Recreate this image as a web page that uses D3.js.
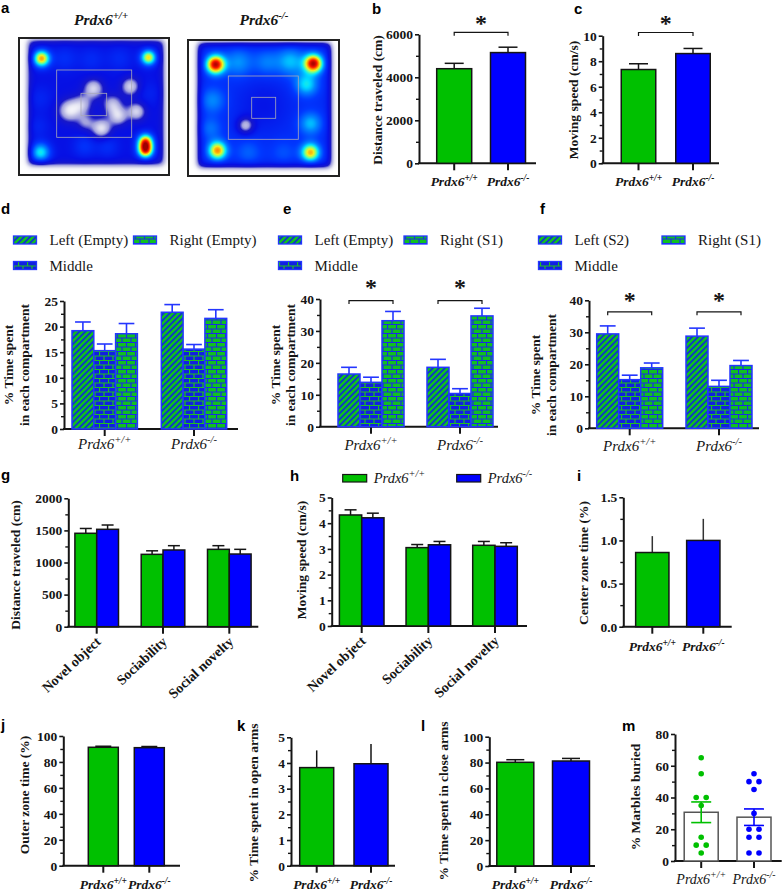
<!DOCTYPE html>
<html><head><meta charset="utf-8">
<script src="https://cdn.jsdelivr.net/npm/d3@7"></script>
<style>body{margin:0;background:#fff}svg{display:block}</style>
</head><body>
<svg id="fig" width="783" height="891"></svg>
<script>
// ---------------- DATA ----------------
const genotypes = ["Prdx6+/+", "Prdx6-/-"];
// b, c: open field
const ofDistance = [4400, 5150], ofDistanceErr = [250, 250];
const ofSpeed = [7.35, 8.6], ofSpeedErr = [0.45, 0.4];
// d, e, f: three-chamber (bar order Left, Middle, Right)
const chambers = ["Left", "Middle", "Right"];
const legendD = ["Left (Empty)", "Right (Empty)", "Middle"];
const legendE = ["Left (Empty)", "Right (S1)", "Middle"];
const legendF = ["Left (S2)", "Right (S1)", "Middle"];
const habWT = [19.2, 15.3, 18.6], habWTErr = [1.7, 1.3, 2.0];
const habKO = [22.8, 15.6, 21.6], habKOErr = [1.5, 0.9, 1.7];
const socWT = [16.5, 13.9, 33.2], socWTErr = [2.1, 1.6, 2.9];
const socKO = [18.6, 10.4, 34.7], socKOErr = [2.5, 1.5, 2.4];
const novWT = [29.5, 15.2, 18.9], novWTErr = [2.5, 1.4, 1.5];
const novKO = [28.8, 13.1, 19.6], novKOErr = [2.5, 1.9, 1.6];
// g, h
const phases = ["Novel object", "Sociability", "Social novelty"];
const phDistWT = [1455, 1127, 1205], phDistWTErr = [75, 55, 57];
const phDistKO = [1517, 1195, 1132], phDistKOErr = [67, 67, 73];
const phSpeedWT = [4.32, 3.05, 3.14], phSpeedWTErr = [0.2, 0.12, 0.15];
const phSpeedKO = [4.21, 3.16, 3.10], phSpeedKOErr = [0.18, 0.13, 0.14];
// i, j, k, l
const centerZone = [0.86, 1.0], centerZoneErr = [0.19, 0.25];
const outerZone = [91.3, 91.0], outerZoneErr = [0.8, 0.9];
const openArms = [3.82, 3.97], openArmsErr = [0.67, 0.77];
const closeArms = [80.2, 81.2], closeArmsErr = [2.0, 2.0];
// m: marble burying
const marblesWT = [65, 55, 40, 40, 35, 15, 10, 10, 5];
const marblesKO = [55, 50, 50, 45, 30, 20, 20, 15, 15, 5, 5];
const marbleMean = [30.7, 27.6], marbleSem = [6.5, 5.2];
// a: heatmap hot spots [x, y, sigma, amplitude] relative to arena box
const spotsWT = [
  [22,20,6,0.5],[129,19,5.5,0.45],[21,114,7,0.3],[126,103,5.5,0.5],[126,112,5.5,0.55],
  [45,20,9,0.07],[72,21,9,0.06],[100,20,9,0.06],[65,108,8,0.08],[88,108,8,0.07],[20,60,9,0.05],[18,88,8,0.05],[130,55,9,0.04],
  [50,72,8,-0.22],[74,50,7,-0.2],[93,66,7,-0.17],[111,48,6.5,-0.2],[117,73,6.5,-0.2],[82,90,7,-0.22],[99,78,6.5,-0.18],[63,66,7,-0.15],[66,84,6,-0.12]
];
const spotsKO = [
  [27,24,6.5,0.6],[125,23,6.5,0.6],[29,110,6.5,0.45],[122,112,6.5,0.42],
  [50,22,10,0.14],[78,22,9,0.11],[102,21,10,0.18],[118,44,8,0.22],[122,83,8,0.18],[24,60,9,0.13],[22,88,8,0.1],[60,112,9,0.08],[95,112,9,0.06],
  [57,85,6,-0.22],[75,65,18,-0.06]
];
const jetStops  = [0, 0.08, 0.16, 0.22, 0.30, 0.40, 0.50, 0.58, 0.66, 0.74, 0.82, 0.90, 1.0];
const jetColors = ["#ffffff","#e4e4f2","#a0a0dc","#1818c8","#0610e4","#0038ff","#0088ff","#00e0ff","#70ff90","#f0f020","#ff9000","#ff1800","#a00000"];

// ---------------- STYLE ----------------
const GREEN = "#00c000", BLUE = "#0000ff", PBLUE = "#2436ff", INK = "#151515";
const SERIF = "'Liberation Serif','Times New Roman',serif";
const SANS = "'Liberation Sans',Arial,sans-serif";
const svg = d3.select("#fig");
const defs = svg.append("defs");

// patterns
(function(){
  const pd = defs.append("pattern").attr("id","pDiag").attr("patternUnits","userSpaceOnUse").attr("width",6).attr("height",6);
  pd.append("rect").attr("width",6).attr("height",6).attr("fill","#1030d0");
  pd.append("path").attr("d","M-1,7 L7,-1 M-1,1 L1,-1 M5,7 L7,5").attr("stroke","#10c020").attr("stroke-width",2.6);
  function brick(id, fill, line){
    const p = defs.append("pattern").attr("id",id).attr("patternUnits","userSpaceOnUse").attr("width",9).attr("height",9);
    p.append("rect").attr("width",9).attr("height",9).attr("fill",fill);
    p.append("path").attr("d","M0,0.5 H9 M0,5 H9 M0.5,0.5 V5 M5,5 V9").attr("stroke",line).attr("stroke-width",1.2).attr("fill","none");
  }
  brick("pBrickB", "#1020e0", "#20c020");
  brick("pBrickG", "#10c020", "#1a2ae8");
})();
const chamberFill = {"Left":"url(#pDiag)","Middle":"url(#pBrickB)","Right":"url(#pBrickG)"};

// ---------------- HELPERS ----------------
function letter(t, x, y){
  svg.append("text").attr("x",x).attr("y",y).text(t)
    .attr("font-family",SANS).attr("font-weight","bold").attr("font-size",15).attr("fill","#000");
}
function geno(sel, label, x, y, o){
  const t = sel.append("text").attr("x",x).attr("y",y).attr("text-anchor",o.anchor||"middle")
    .attr("font-family",SERIF).attr("font-style","italic").attr("font-weight",o.bold?"bold":"normal")
    .attr("font-size",o.size).attr("fill",INK);
  t.append("tspan").text(label.slice(0,5));
  t.append("tspan").text(label.slice(5)).attr("font-size",o.size*0.7).attr("dy",-o.size*0.4);
  return t;
}
function yTitle(g, lines, x, cy, dx){
  lines.forEach((s,i)=>{
    g.append("text").attr("transform",`translate(${x + i*(dx||15)},${cy}) rotate(-90)`)
      .attr("text-anchor","middle").attr("dominant-baseline","central")
      .attr("font-family",SERIF).attr("font-weight","bold").attr("font-size",13.5).attr("fill",INK).text(s);
  });
}
function axes(p){
  const g = svg.append("g");
  const y = d3.scaleLinear().domain([0,p.max]).range([p.yBot,p.yTop]);
  const ay = g.append("g").attr("transform",`translate(${p.ax},0)`)
    .call(d3.axisLeft(y).tickValues(p.ticks).tickFormat(p.fmt||(d=>d)).tickSize(4).tickSizeOuter(0).tickPadding(2));
  ay.select(".domain").attr("stroke",INK).attr("stroke-width",2);
  ay.selectAll(".tick line").attr("stroke",INK).attr("stroke-width",1.6);
  ay.selectAll(".tick text").attr("font-family",SERIF).attr("font-weight","bold").attr("font-size",13.5).attr("fill",INK);
  const minors = d3.range(0, p.max + 1e-9, p.minor).filter(v => !p.ticks.some(t => Math.abs(t-v) < 1e-9));
  const am = g.append("g").attr("transform",`translate(${p.ax},0)`)
    .call(d3.axisLeft(y).tickValues(minors).tickFormat("").tickSize(3).tickSizeOuter(0));
  am.select(".domain").remove();
  am.selectAll(".tick line").attr("stroke",INK).attr("stroke-width",1.4);
  g.append("line").attr("x1",p.ax-1).attr("x2",p.right).attr("y1",p.yBot).attr("y2",p.yBot)
    .attr("stroke",INK).attr("stroke-width",2);
  const x = d3.scalePoint().domain(p.cats).range(p.centers);
  g.selectAll(".xt").data(p.cats).join("line")
    .attr("x1",d=>x(d)).attr("x2",d=>x(d)).attr("y1",p.yBot).attr("y2",p.yBot+7)
    .attr("stroke",INK).attr("stroke-width",2);
  return {g, x, y};
}
function errUp(g, cx, y0, y1, capW, color, w){
  g.append("line").attr("x1",cx).attr("x2",cx).attr("y1",y0).attr("y2",y1).attr("stroke",color).attr("stroke-width",w||1.5);
  g.append("line").attr("x1",cx-capW/2).attr("x2",cx+capW/2).attr("y1",y1).attr("y2",y1).attr("stroke",color).attr("stroke-width",w||1.5);
}
function simpleBars(A, vals, errs, barW, capW, errColor){
  const colors = [GREEN, BLUE];
  genotypes.forEach((gname,i)=>{
    const cx = A.x(gname);
    errUp(A.g, cx, A.y(vals[i]), A.y(vals[i]+errs[i]), capW, errColor||INK);
    A.g.append("rect").attr("x",cx-barW/2).attr("width",barW)
      .attr("y",A.y(vals[i])).attr("height",A.y(0)-A.y(vals[i]))
      .attr("fill",colors[i]).attr("stroke",INK).attr("stroke-width",1.5);
  });
}
function genoLabels(A, y, o){
  genotypes.forEach(gname => geno(A.g, gname, A.x(gname), y, o));
}
function sigBracket(g, x1, x2, y, star){
  g.append("path").attr("d",`M${x1},${y+3.5}V${y}H${x2}V${y+3.5}`).attr("fill","none").attr("stroke",INK).attr("stroke-width",1.2);
  g.append("text").attr("x",(x1+x2)/2).attr("y",star).attr("text-anchor","middle")
    .attr("font-family",SERIF).attr("font-weight","bold").attr("font-size",24).attr("fill",INK).text("*");
}

// ---------------- a: heatmaps ----------------
const jet = d3.scaleLinear().domain(jetStops).range(jetColors).clamp(true);
function heatmap(o){
  const c = document.createElement("canvas"); c.width = o.w; c.height = o.h;
  const ctx = c.getContext("2d"); const img = ctx.createImageData(o.w, o.h);
  const sig = v => 1/(1+Math.exp(-v));
  const [ax0, ay0, ax1, ay1] = o.arena;
  for (let py=0; py<o.h; py++) for (let px=0; px<o.w; px++){
    const m = sig((px-ax0)/2.4)*sig((ax1-px)/2.4)*sig((py-ay0)/2.4)*sig((ay1-py)/2.4);
    let v = o.base;
    for (const s of o.spots){ const dx=px-s[0], dy=py-s[1]; v += s[3]*Math.exp(-(dx*dx+dy*dy)/(2*s[2]*s[2])); }
    v = Math.max(0, Math.min(1, v*m));
    const col = d3.rgb(jet(v)); const a = Math.min(1, v/0.08);
    const k = 4*(py*o.w+px);
    img.data[k] = 255*(1-a)+col.r*a; img.data[k+1] = 255*(1-a)+col.g*a; img.data[k+2] = 255*(1-a)+col.b*a; img.data[k+3] = 255;
  }
  ctx.putImageData(img,0,0);
  const g = svg.append("g").attr("transform",`translate(${o.ox},${o.oy})`);
  g.append("image").attr("width",o.w).attr("height",o.h).attr("href",c.toDataURL());
  [o.inner, o.center].forEach(r => g.append("rect").attr("x",r[0]).attr("y",r[1]).attr("width",r[2]-r[0]).attr("height",r[3]-r[1])
    .attr("fill","none").attr("stroke","#a8a8b8").attr("stroke-width",0.8));
  g.append("rect").attr("x",0).attr("y",0).attr("width",o.w).attr("height",o.h).attr("fill","none").attr("stroke","#222").attr("stroke-width",2);
}
heatmap({ox:19, oy:38, w:150, h:137, arena:[8,1,145,127], base:0.30, spots:spotsWT, inner:[37.7,32,112.7,99.3], center:[62,55.3,87.7,77.7]});
heatmap({ox:188, oy:40, w:151, h:136, arena:[9,2,143,127], base:0.37, spots:spotsKO, inner:[40.3,36,110.3,99.3], center:[63.7,57.3,87.7,78.3]});
geno(svg, genotypes[0], 101, 25, {bold:true, size:15.5});
geno(svg, genotypes[1], 264, 25, {bold:true, size:15.5});
letter("a", 1, 13);

// ---------------- b ----------------
letter("b", 372, 14);
{
  const A = axes({ax:419, right:536, yTop:34.3, yBot:163.3, max:6000, ticks:[0,2000,4000,6000], minor:1000, cats:genotypes, centers:[454.2,508]});
  simpleBars(A, ofDistance, ofDistanceErr, 35, 19);
  genoLabels(A, 186, {bold:true, size:13.5});
  yTitle(A.g, ["Distance traveled (cm)"], 377, 100);
  sigBracket(A.g, A.x(genotypes[0]), A.x(genotypes[1]), A.y(6090), 31);
}
// ---------------- c ----------------
letter("c", 574, 14);
{
  const A = axes({ax:602.7, right:719, yTop:35.7, yBot:163.3, max:10, ticks:[0,2,4,6,8,10], minor:1, cats:genotypes, centers:[638.5,693]});
  simpleBars(A, ofSpeed, ofSpeedErr, 34.5, 19);
  genoLabels(A, 186, {bold:true, size:13.5});
  yTitle(A.g, ["Moving speed (cm/s)"], 573.3, 100);
  sigBracket(A.g, A.x(genotypes[0]), A.x(genotypes[1]), A.y(10.25), 31);
}

// ---------------- d, e, f ----------------
function chamberPanel(p){
  const A = axes(p);
  const sub = d3.scaleBand().domain(chambers).range([-1.5*p.barW, 1.5*p.barW]);
  [[p.wt,p.wtErr],[p.ko,p.koErr]].forEach(([vals,errs],gi)=>{
    const cx = A.x(genotypes[gi]);
    chambers.forEach((ch,ci)=>{
      const bx = cx + sub(ch), bc = bx + sub.bandwidth()/2;
      errUp(A.g, bc, A.y(vals[ci]), A.y(vals[ci]+errs[ci]), p.barW*0.72, PBLUE, 1.6);
      A.g.append("rect").attr("x",bx).attr("width",sub.bandwidth()).attr("y",A.y(vals[ci])).attr("height",A.y(0)-A.y(vals[ci]))
        .attr("fill",chamberFill[ch]).attr("stroke",PBLUE).attr("stroke-width",1.5);
    });
    if (p.sig){
      const xl = cx + sub("Left") + sub.bandwidth()/2, xr = cx + sub("Right") + sub.bandwidth()/2;
      sigBracket(A.g, xl, xr, A.y(p.sig), p.star);
    }
  });
  genoLabels(A, p.labY, {bold:false, size:15});
  yTitle(A.g, ["% Time spent","in each compartment"], p.tx, p.ty, 15.5);
  // legend
  const fills = [chamberFill.Left, chamberFill.Right, chamberFill.Middle];
  const pos = [[p.lx1,240],[p.lx2,240],[p.lx1,265.5]];
  p.legend.forEach((s,i)=>{
    A.g.append("rect").attr("x",pos[i][0]).attr("y",pos[i][1]-4).attr("width",23).attr("height",8)
      .attr("fill",fills[i]).attr("stroke",PBLUE).attr("stroke-width",1.3);
    A.g.append("text").attr("x",pos[i][0]+36).attr("y",pos[i][1]+5).text(s)
      .attr("font-family",SERIF).attr("font-size",15).attr("fill",INK);
  });
}
letter("d", 1, 214);
chamberPanel({ax:64, right:238, yTop:301, yBot:429, max:25, ticks:[0,5,10,15,20,25], minor:2.5, cats:genotypes, centers:[104.7,194], barW:21.8,
  wt:habWT, wtErr:habWTErr, ko:habKO, koErr:habKOErr, legend:legendD, lx1:13.5, lx2:133.5, labY:449, tx:8.5, ty:365});
letter("e", 283, 214);
chamberPanel({ax:320, right:498, yTop:299, yBot:426.7, max:40, ticks:[0,10,20,30,40], minor:5, cats:genotypes, centers:[371,460], barW:22,
  wt:socWT, wtErr:socWTErr, ko:socKO, koErr:socKOErr, legend:legendE, lx1:278.5, lx2:404, labY:450, tx:275, ty:365, sig:39.5, star:295});
letter("f", 540, 214);
chamberPanel({ax:589, right:759, yTop:300.3, yBot:428.3, max:40, ticks:[0,10,20,30,40], minor:5, cats:genotypes, centers:[629.7,719], barW:22,
  wt:novWT, wtErr:novWTErr, ko:novKO, koErr:novKOErr, legend:legendF, lx1:538.5, lx2:662, labY:451, tx:535.5, ty:375, sig:36.4, star:308});

// ---------------- g, h ----------------
function phasePanel(p){
  const A = axes(p);
  const sub = d3.scaleBand().domain(genotypes).range([-p.barW, p.barW]);
  const colors = [GREEN, BLUE];
  [[p.wt,p.wtErr],[p.ko,p.koErr]].forEach(([vals,errs],gi)=>{
    phases.forEach((ph,pi)=>{
      const bx = A.x(ph) + sub(genotypes[gi]), bc = bx + sub.bandwidth()/2;
      errUp(A.g, bc, A.y(vals[pi]), A.y(vals[pi]+errs[pi]), 12, INK);
      A.g.append("rect").attr("x",bx).attr("width",sub.bandwidth()).attr("y",A.y(vals[pi])).attr("height",A.y(0)-A.y(vals[pi]))
        .attr("fill",colors[gi]).attr("stroke",INK).attr("stroke-width",1.5);
    });
  });
  phases.forEach(ph=>{
    A.g.append("text").attr("transform",`translate(${A.x(ph)+5},${p.yBot+16}) rotate(-43)`).attr("text-anchor","end")
      .attr("font-family",SERIF).attr("font-weight","bold").attr("font-size",14).attr("fill",INK).text(ph);
  });
  yTitle(A.g, [p.title], p.tx, p.ty);
}
letter("g", 1, 480);
phasePanel({ax:68.3, right:258.3, yTop:498.3, yBot:626.7, max:2000, ticks:[0,500,1000,1500,2000], minor:250, cats:phases, centers:[96.7,229.3], barW:21.8,
  wt:phDistWT, wtErr:phDistWTErr, ko:phDistKO, koErr:phDistKOErr, title:"Distance traveled (cm)", tx:15, ty:565});
letter("h", 290, 481);
phasePanel({ax:331.7, right:527, yTop:497.5, yBot:626, max:5, ticks:[0,1,2,3,4,5], minor:0.5, cats:phases, centers:[361.7,495], barW:22.3,
  wt:phSpeedWT, wtErr:phSpeedWTErr, ko:phSpeedKO, koErr:phSpeedKOErr, title:"Moving speed (cm/s)", tx:301.7, ty:560});
// h legend
[[342.7, GREEN],[456.7, BLUE]].forEach(([lx,c],i)=>{
  svg.append("rect").attr("x",lx).attr("y",474.5).attr("width",24).attr("height",7.5).attr("fill",c).attr("stroke",INK).attr("stroke-width",1.2);
  geno(svg, genotypes[i], lx+31, 483, {bold:false, size:14.5, anchor:"start"});
});

// ---------------- i ----------------
letter("i", 577, 481);
{
  const A = axes({ax:623.3, right:731.7, yTop:497.3, yBot:626.7, max:1.5, ticks:[0,0.5,1,1.5], fmt:d3.format(".1f"), minor:0.25, cats:genotypes, centers:[652.3,703.3]});
  simpleBars(A, centerZone, centerZoneErr, 33.3, 0, "#333");
  genoLabels(A, 651, {bold:true, size:13.5});
  yTitle(A.g, ["Center zone time (%)"], 583.3, 563);
}
// ---------------- j ----------------
letter("j", 1, 730);
{
  const A = axes({ax:63.3, right:180, yTop:736, yBot:865.7, max:100, ticks:[0,20,40,60,80,100], minor:10, cats:genotypes, centers:[103.3,149.3]});
  simpleBars(A, outerZone, outerZoneErr, 30, 16);
  genoLabels(A, 889, {bold:true, size:13.5});
  yTitle(A.g, ["Outer zone time (%)"], 24, 795);
}
// ---------------- k ----------------
letter("k", 237, 731);
{
  const A = axes({ax:291, right:395, yTop:737.3, yBot:865.7, max:5, ticks:[0,1,2,3,4,5], minor:0.5, cats:genotypes, centers:[316.7,371]});
  simpleBars(A, openArms, openArmsErr, 34, 0);
  genoLabels(A, 889, {bold:true, size:13.5});
  yTitle(A.g, ["% Time spent in open arms"], 253.3, 803);
}
// ---------------- l ----------------
letter("l", 421, 731);
{
  const A = axes({ax:489.3, right:595, yTop:736.7, yBot:866, max:100, ticks:[0,20,40,60,80,100], minor:10, cats:genotypes, centers:[515.3,571]});
  simpleBars(A, closeArms, closeArmsErr, 37, 18);
  genoLabels(A, 889, {bold:true, size:13.5});
  yTitle(A.g, ["% Time spent in close arms"], 443.3, 801);
}
// ---------------- m ----------------
letter("m", 622, 731);
{
  const A = axes({ax:675, right:781.7, yTop:734, yBot:861, max:80, ticks:[0,20,40,60,80], minor:10, cats:genotypes, centers:[701.2,754]});
  const colors = [GREEN, BLUE];
  [marblesWT, marblesKO].forEach((vals,gi)=>{
    const cx = A.x(genotypes[gi]);
    A.g.append("rect").attr("x",cx-17).attr("width",34).attr("y",A.y(marbleMean[gi])).attr("height",A.y(0)-A.y(marbleMean[gi]))
      .attr("fill","#fff").attr("stroke","#555").attr("stroke-width",1.5);
    const counts = d3.rollup(vals, v=>v.length, d=>d);
    const seen = new Map();
    vals.forEach(v=>{
      const n = counts.get(v), k = seen.get(v)||0; seen.set(v,k+1);
      const off = n===1 ? 0 : (k - (n-1)/2) * 10;
      A.g.append("circle").attr("cx",cx+off).attr("cy",A.y(v)).attr("r",2.8).attr("fill",colors[gi]);
    });
    const yHi = A.y(marbleMean[gi]+marbleSem[gi]), yLo = A.y(marbleMean[gi]-marbleSem[gi]);
    A.g.append("line").attr("x1",cx).attr("x2",cx).attr("y1",yHi).attr("y2",yLo).attr("stroke",colors[gi]).attr("stroke-width",1.6);
    [yHi,yLo].forEach(yy=>A.g.append("line").attr("x1",cx-10).attr("x2",cx+10).attr("y1",yy).attr("y2",yy).attr("stroke",colors[gi]).attr("stroke-width",1.6));
  });
  genoLabels(A, 884, {bold:false, size:14});
  yTitle(A.g, ["% Marbles buried"], 635, 797);
}
</script>
</body></html>
